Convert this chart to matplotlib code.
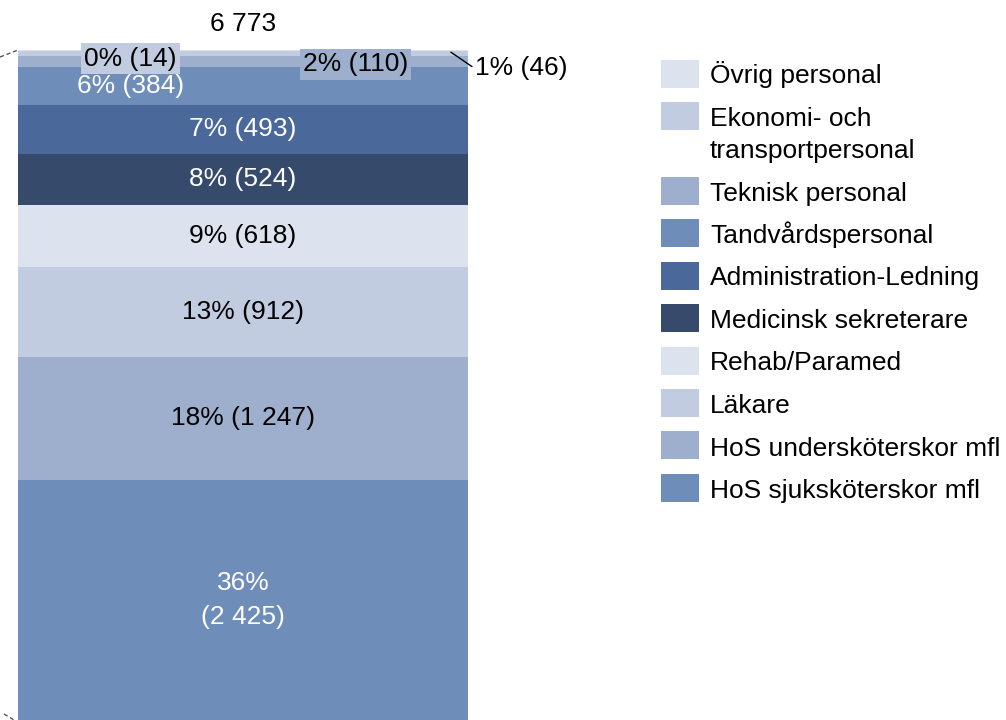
import matplotlib.pyplot as plt
from matplotlib.patches import Rectangle
from matplotlib.lines import Line2D

plt.rcParams['font.family'] = ['Liberation Sans', 'DejaVu Sans']

# bottom to top
categories = ["HoS sjuksköterskor mfl", "HoS undersköterskor mfl", "Läkare",
              "Rehab/Paramed", "Medicinsk sekreterare", "Administration-Ledning",
              "Tandvårdspersonal", "Teknisk personal",
              "Ekonomi- och\ntransportpersonal", "Övrig personal"]
values = [2425, 1247, 912, 618, 524, 493, 384, 110, 46, 14]
pct_labels = ["36%\n(2 425)", "18% (1 247)", "13% (912)", "9% (618)", "8% (524)",
              "7% (493)", "6% (384)", "2% (110)", "1% (46)", "0% (14)"]
total_label = "6 773"

colors = ["#6e8db9", "#9dafcd", "#c2cce0", "#dce3ee", "#364a6b",
          "#4a6899", "#6e8db9", "#9dafcd", "#c2cce0", "#dce3ee"]
text_colors = ["white", "black", "black", "black", "white",
               "white", "white", "black", "black", "black"]

W, H = 1006, 720
fig = plt.figure(figsize=(W / 100, H / 100), dpi=100)
# bar spans 18..468 px horizontally, top at ~50 px
ax = fig.add_axes([18 / W, 0, 450 / W, 670 / H])
ax.set_xlim(-0.5, 0.5)
ax.set_ylim(0, sum(values))
ax.axis("off")

fs = 19
bottom = 0
for i, (v, c) in enumerate(zip(values, colors)):
    ax.bar(0, v, width=1.0, bottom=bottom, color=c, linewidth=0)
    mid = bottom + v / 2
    if i < 7:
        x = -0.25 if i == 6 else 0
        ax.text(x, mid, pct_labels[i], ha="center", va="center",
                fontsize=fs, color=text_colors[i], linespacing=1.55)
    elif i == 7:
        ax.text(0.25, mid - 30, pct_labels[i], ha="center", va="center",
                fontsize=fs, color=text_colors[i],
                bbox=dict(boxstyle="square,pad=0.12", fc="#9dafcd", ec="none"))
    elif i == 8:
        ax.annotate(pct_labels[i], xy=(0.462, mid + 15), xytext=(0.515, mid - 150),
                    ha="left", va="center", fontsize=fs, color=text_colors[i],
                    annotation_clip=False,
                    arrowprops=dict(arrowstyle="-", color="black", lw=1,
                                    shrinkA=0, shrinkB=0, relpos=(0, 0.5)))
    else:
        ax.text(-0.25, mid - 80, pct_labels[i], ha="center", va="center",
                fontsize=fs, color=text_colors[i],
                bbox=dict(boxstyle="square,pad=0.12", fc="#c2cce0", ec="none"))
    bottom += v

ax.text(0, bottom + 260, total_label, ha="center", va="center",
        fontsize=fs, clip_on=False)

# series connector remnants
fig.add_artist(Line2D([0, 18 / W], [1 - 57 / H, 1 - 50 / H], color="#555555",
                      lw=1, ls=(0, (3, 2))))
fig.add_artist(Line2D([4 / W, 14 / W], [1 - 714 / H, 1 - 720 / H], color="#555555",
                      lw=1, ls=(0, (3, 2))))

# legend, top to bottom
y = 73.5
for lab, c in zip(categories[::-1], colors[::-1]):
    fig.add_artist(Rectangle((661 / W, 1 - (y + 14) / H), 38 / W, 28 / H,
                             transform=fig.transFigure, fc=c, ec="none"))
    for k, line in enumerate(lab.split("\n")):
        fig.text(710 / W, 1 - (y + 10 + 32 * k) / H, line, ha="left",
                 va="baseline", fontsize=fs)
    y += 42.5 + 32 * lab.count("\n")

fig.savefig("out.png", dpi=100)
